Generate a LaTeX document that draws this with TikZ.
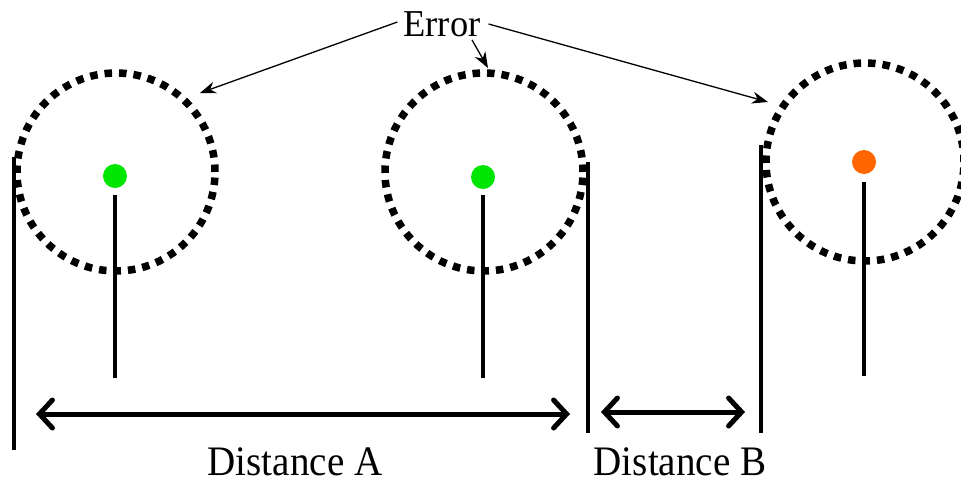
\documentclass[tikz,border=0pt]{standalone}
\usepackage{fontspec}
\setmainfont{Liberation Serif}
\usetikzlibrary{arrows.meta}
\definecolor{dotgreen}{RGB}{0,230,0}
\definecolor{dotorange}{RGB}{255,102,0}
\tikzset{
  errcircle/.style={circle, draw, minimum size=198pt, line width=7.5pt, dash pattern=on 7.5pt off 7pt},
  target/.style={circle, fill=#1, minimum size=24pt, inner sep=0pt},
  stick/.style={line width=4pt},
  bar/.style={line width=4pt},
  dist/.style={line width=5pt, {Straight Barb[length=13pt,width=28pt,line cap=round,line width=5pt]}-{Straight Barb[length=13pt,width=28pt,line cap=round,line width=5pt]}},
  errarrow/.style={line width=1.3pt, -{Stealth[length=16pt,width=12pt]}},
  lbl/.style={font=\fontsize{42}{46}\selectfont, inner sep=2pt, xscale=0.93}
}
\begin{document}
\begin{tikzpicture}[x=1pt,y=-1pt]
\useasboundingbox (0,0) rectangle (961,483);
% circles
\node[errcircle] (c1) at (116,172) {};
\node[errcircle] (c2) at (484,172) {};
\node[errcircle] (c3) at (865,162) {};
% targets
\node[target=dotgreen] (d1) at (115,176) {};
\node[target=dotgreen] (d2) at (483,177) {};
\node[target=dotorange] (d3) at (864,162) {};
% sticks
\coordinate (s1t) at (115,195); \coordinate (s1b) at (115,378);
\coordinate (s2t) at (483,195); \coordinate (s2b) at (483,378);
\coordinate (s3t) at (864,182); \coordinate (s3b) at (864,376);
\draw[stick] (s1t) -- (s1b);
\draw[stick] (s2t) -- (s2b);
\draw[stick] (s3t) -- (s3b);
% bars
\coordinate (b1t) at (14,157); \coordinate (b1b) at (14,450);
\coordinate (b2t) at (588,162); \coordinate (b2b) at (588,433);
\coordinate (b3t) at (761,145); \coordinate (b3b) at (761,433);
\draw[bar] (b1t) -- (b1b);
\draw[bar] (b2t) -- (b2b);
\draw[bar] (b3t) -- (b3b);
% distance arrows
\coordinate (a1) at (36,414); \coordinate (a2) at (570,414);
\coordinate (a3) at (601,412); \coordinate (a4) at (745,412);
\draw[dist] (a1) -- (a2);
\draw[dist] (a3) -- (a4);
\node[lbl] (la) at (295,462) {Distance A};
\node[lbl] (lb) at (680,462) {Distance B};
% error label
\node[font=\fontsize{38}{42}\selectfont, inner sep=2pt, xscale=0.96] (err) at (442,24) {Error};
\coordinate (e1) at (200,93);
\coordinate (e2) at (488,68);
\coordinate (e3) at (768,102);
\draw[errarrow] (err.west) ++(-4,-2) coordinate (e1s) -- (e1);
\draw[errarrow] (472,40) coordinate (e2s) -- (e2);
\draw[errarrow] (err.east) ++(6,0) coordinate (e3s) -- (e3);
\end{tikzpicture}
\end{document}
